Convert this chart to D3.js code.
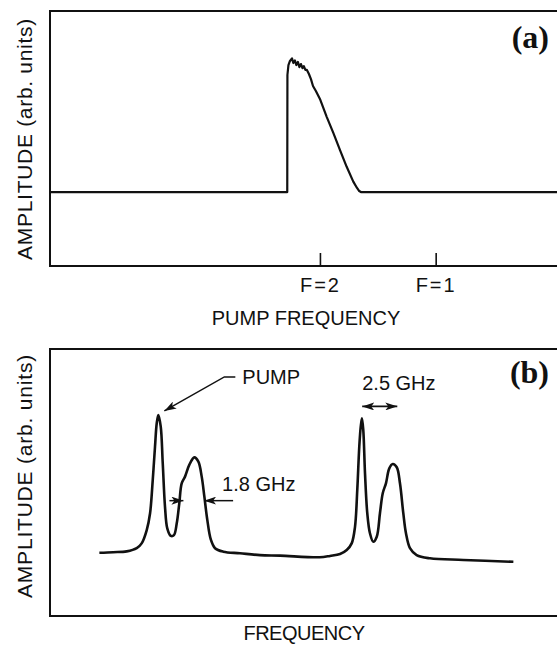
<!DOCTYPE html>
<html>
<head>
<meta charset="utf-8">
<script src="https://cdn.jsdelivr.net/npm/d3@7"></script>
<style>
  html, body { margin: 0; padding: 0; background: #fff; }
  svg { display: block; }
  text { font-family: "Liberation Sans", Arial, sans-serif; fill: #111; }
</style>
</head>
<body>
<script>
// ---------- DATA ----------
// Panel (a): pump frequency (GHz relative to F=2) vs amplitude (arb.)
const aFreq = [-15.95, -1.93, -1.92, -1.86, -1.77, -1.65, -1.57, -1.48, -1.39, -1.30, -1.21, -1.12, -1.03, -0.95,
  -0.86, -0.77, -0.65, -0.53, -0.41, -0.24, 0.00, 0.40, 0.79, 1.18, 1.58, 1.97, 2.19, 2.32, 2.42, 14.0];
const aAmp = [2.90, 2.90, 7.49, 7.88, 8.04, 8.14, 7.96, 8.06, 7.88, 8.00, 7.80, 7.92, 7.76, 7.84,
  7.69, 7.69, 7.53, 7.33, 7.06, 6.86, 6.55, 5.85, 5.22, 4.55, 3.89, 3.31, 3.06, 2.94, 2.90, 2.90];
const aTickValues = [0, 6.835];
const aTickLabels = ["F=2", "F=1"];

// Panel (b): frequency (GHz) vs amplitude (arb.)
const bFreq = [3.70, 4.74, 5.75, 6.50, 6.87, 7.25, 7.50, 7.70, 7.87, 8.00, 8.12, 8.30, 8.45, 8.62, 8.79, 9.05,
  9.29, 9.50, 9.69, 9.87, 10.12, 10.44, 10.82, 11.12, 11.37, 11.57, 11.79, 12.05, 12.37, 12.99, 14.24,
  15.74, 17.24, 20.21, 20.99, 21.74, 22.24, 22.61, 22.86, 23.03, 23.18, 23.29, 23.38, 23.48, 23.61,
  23.78, 23.98, 24.23, 24.49, 24.73, 24.94, 25.18, 25.43, 25.69, 25.99, 26.23, 26.48, 26.68, 26.98,
  27.48, 28.48, 30.98, 34.73];
const bAmp = [2.37, 2.39, 2.42, 2.54, 2.72, 3.22, 3.85, 5.09, 6.34, 7.22, 7.53, 7.09, 5.72, 4.09, 3.28, 3.00,
  3.03, 3.47, 4.22, 4.97, 5.22, 5.66, 5.94, 5.78, 5.22, 4.47, 3.60, 2.87, 2.54, 2.41, 2.35,
  2.28, 2.26, 2.20, 2.25, 2.32, 2.47, 2.72, 3.34, 4.72, 6.34, 7.09, 7.40, 6.97, 5.34,
  3.85, 3.10, 2.78, 2.97, 3.85, 4.60, 4.97, 5.53, 5.69, 5.57, 4.97, 3.85, 3.10, 2.54,
  2.28, 2.16, 2.10, 2.03];

// annotation anchors (data units, panel b)
const pumpPeak = [8.12, 7.53];
const widthMarks = [10.0, 11.55];   // 1.8 GHz FWHM markers
const widthMarkAmp = 4.32;
const splitMarks = [23.40, 26.03];  // 2.5 GHz separation markers
const splitMarkAmp = 7.85;

// ---------- DRAW ----------
const W = 557, H = 645;
const svg = d3.select("body").append("svg").attr("width", W).attr("height", H);

const defs = svg.append("defs");
function marker(id, orient) {
  defs.append("marker").attr("id", id)
    .attr("viewBox", "0 0 12 8").attr("refX", 12).attr("refY", 4)
    .attr("markerWidth", 12).attr("markerHeight", 8)
    .attr("markerUnits", "userSpaceOnUse").attr("orient", orient)
    .append("path").attr("d", "M0,0 L12,4 L0,8 L3,4 Z").attr("fill", "#111");
}
marker("arr", "auto");
marker("arrS", "auto-start-reverse");

// Panel (a)
const ax = d3.scaleLinear().domain([-16, 14]).range([49, 557]);
const ay = d3.scaleLinear().domain([0, 10]).range([266, 11]);
const ga = svg.append("g");
ga.append("path")
  .attr("d", `M${W + 10},11 H50 V266 H${W + 10}`)
  .attr("fill", "none").attr("stroke", "#111").attr("stroke-width", 2);
const xAxisA = d3.axisBottom(ax).tickValues(aTickValues).tickSize(-13)
  .tickFormat((d, i) => aTickLabels[i]);
const axG = ga.append("g").attr("transform", "translate(0,266)").call(xAxisA);
axG.select(".domain").remove();
axG.selectAll(".tick line").attr("stroke", "#111").attr("stroke-width", 1.6);
axG.selectAll(".tick text").attr("y", 26).attr("dy", 0)
  .attr("font-size", 20).attr("letter-spacing", 2)
  .style("font-family", "'Liberation Sans', Arial, sans-serif").attr("fill", "#111");
ga.append("path")
  .datum(aFreq.map((f, i) => [f, aAmp[i]]))
  .attr("d", d3.line().x(d => ax(d[0])).y(d => ay(d[1])))
  .attr("fill", "none").attr("stroke", "#111").attr("stroke-width", 2.2)
  .attr("stroke-linejoin", "round");
ga.append("text").attr("x", 306).attr("y", 325).attr("text-anchor", "middle")
  .attr("font-size", 20).attr("letter-spacing", 0).text("PUMP FREQUENCY");
ga.append("text").attr("transform", "translate(32,139) rotate(-90)")
  .attr("text-anchor", "middle").attr("font-size", 21).attr("letter-spacing", 0.7)
  .text("AMPLITUDE (arb. units)");
ga.append("text").attr("x", 549).attr("y", 48).attr("text-anchor", "end")
  .style("font-family", "'Liberation Serif', 'Times New Roman', serif")
  .attr("font-weight", "bold").attr("font-size", 32).text("(a)");

// Panel (b)
const bx = d3.scaleLinear().domain([0, 38]).range([50, 557]);
const by = d3.scaleLinear().domain([0, 10]).range([616, 349]);
const gb = svg.append("g");
gb.append("path")
  .attr("d", `M${W + 10},349 H50 V616 H${W + 10}`)
  .attr("fill", "none").attr("stroke", "#111").attr("stroke-width", 2);
gb.append("path")
  .datum(bFreq.map((f, i) => [f, bAmp[i]]))
  .attr("d", d3.line().x(d => bx(d[0])).y(d => by(d[1])).curve(d3.curveCatmullRom.alpha(0.5)))
  .attr("fill", "none").attr("stroke", "#111").attr("stroke-width", 2.6)
  .attr("stroke-linejoin", "round");
gb.append("text").attr("x", 304).attr("y", 640).attr("text-anchor", "middle")
  .attr("font-size", 20).attr("letter-spacing", -0.5).text("FREQUENCY");
gb.append("text").attr("transform", "translate(32,476) rotate(-90)")
  .attr("text-anchor", "middle").attr("font-size", 21).attr("letter-spacing", 0.8)
  .text("AMPLITUDE (arb. units)");
gb.append("text").attr("x", 549).attr("y", 383).attr("text-anchor", "end")
  .style("font-family", "'Liberation Serif', 'Times New Roman', serif")
  .attr("font-weight", "bold").attr("font-size", 32).text("(b)");

// PUMP annotation
const pumpTip = [bx(pumpPeak[0]) + 6, by(pumpPeak[1]) - 4];
gb.append("path")
  .attr("d", `M${pumpTip[0] + 71},${pumpTip[1] - 34} L${pumpTip[0] + 60},${pumpTip[1] - 34} L${pumpTip[0]},${pumpTip[1]}`)
  .attr("fill", "none").attr("stroke", "#111").attr("stroke-width", 1.5)
  .attr("marker-end", "url(#arr)");
gb.append("text").attr("x", pumpTip[0] + 78).attr("y", pumpTip[1] - 27)
  .attr("font-size", 20).text("PUMP");

// 1.8 GHz width markers
const wy = by(widthMarkAmp);
gb.append("line").attr("x1", bx(widthMarks[0]) - 14).attr("x2", bx(widthMarks[0]))
  .attr("y1", wy).attr("y2", wy).attr("stroke", "#111").attr("stroke-width", 1.5)
  .attr("marker-end", "url(#arr)");
gb.append("line").attr("x1", bx(widthMarks[1]) + 29).attr("x2", bx(widthMarks[1]))
  .attr("y1", wy).attr("y2", wy).attr("stroke", "#111").attr("stroke-width", 1.5)
  .attr("marker-end", "url(#arr)");
gb.append("text").attr("x", bx(widthMarks[1]) + 18).attr("y", wy - 10)
  .attr("font-size", 20).text("1.8 GHz");

// 2.5 GHz separation marker
const sy = by(splitMarkAmp);
gb.append("line").attr("x1", bx(splitMarks[0])).attr("x2", bx(splitMarks[1]))
  .attr("y1", sy).attr("y2", sy).attr("stroke", "#111").attr("stroke-width", 1.8)
  .attr("marker-start", "url(#arrS)").attr("marker-end", "url(#arr)");
gb.append("text").attr("x", bx(splitMarks[0])).attr("y", sy - 16)
  .attr("font-size", 20).text("2.5 GHz");
</script>
</body>
</html>
